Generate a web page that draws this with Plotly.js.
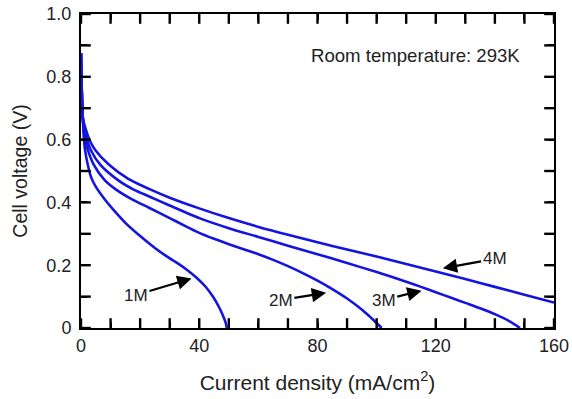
<!DOCTYPE html>
<html>
<head>
<meta charset="utf-8">
<script src="https://cdn.plot.ly/plotly-3.0.1.min.js"></script>
<style>html,body{margin:0;padding:0;background:#fff;}#chart{width:572px;height:399px;}</style>
</head>
<body>
<div id="chart"></div>
<script>
// Series labels
const seriesNames = ["1M", "2M", "3M", "4M"];

// 1M methanol
const x1M = [0, 0.1, 0.25, 0.45, 0.7, 1.0, 1.4, 2.3, 3.5, 5, 8, 11, 15, 20, 25, 29, 33, 36, 39, 42, 44.5, 46.5, 48, 49, 49.3];
const y1M = [0.875, 0.82, 0.76, 0.70, 0.65, 0.60, 0.565, 0.52, 0.478, 0.45, 0.41, 0.376, 0.335, 0.293, 0.255, 0.228, 0.204, 0.184, 0.161, 0.133, 0.102, 0.07, 0.04, 0.015, 0];

// 2M methanol
const x2M = [0, 0.1, 0.25, 0.45, 0.7, 1.4, 2.3, 4.3, 8, 12, 17.6, 23, 30, 35, 40, 45, 50, 55, 60, 65, 70, 75, 80, 85, 90, 94, 97, 99.5, 101.7];
const y2M = [0.875, 0.82, 0.76, 0.70, 0.655, 0.60, 0.567, 0.52, 0.471, 0.44, 0.408, 0.383, 0.35, 0.326, 0.303, 0.284, 0.267, 0.251, 0.235, 0.217, 0.197, 0.175, 0.151, 0.124, 0.094, 0.066, 0.042, 0.02, 0];

// 3M methanol
const x3M = [0, 0.1, 0.25, 0.45, 0.7, 2.0, 3.3, 6.5, 12.5, 18, 23.3, 30, 40, 50, 60, 70, 80, 90, 100, 105, 110, 115, 120, 125, 130, 135, 140, 145, 148.5];
const y3M = [0.875, 0.82, 0.76, 0.70, 0.66, 0.60, 0.567, 0.52, 0.471, 0.44, 0.418, 0.39, 0.35, 0.318, 0.29, 0.262, 0.235, 0.207, 0.178, 0.163, 0.147, 0.131, 0.114, 0.097, 0.08, 0.063, 0.044, 0.021, 0];

// 4M methanol
const x4M = [0, 0.1, 0.25, 0.45, 0.7, 2.8, 4.8, 9.5, 16, 23, 30, 40, 50, 60, 70, 80, 90, 100, 110, 120, 130, 140, 150, 160];
const y4M = [0.875, 0.82, 0.76, 0.70, 0.665, 0.60, 0.567, 0.52, 0.475, 0.443, 0.415, 0.381, 0.35, 0.322, 0.297, 0.273, 0.25, 0.228, 0.204, 0.18, 0.156, 0.131, 0.106, 0.081];

// Tick positions and labels (blank label = minor tick)
const xTickVals = [0, 10, 20, 30, 40, 50, 60, 70, 80, 90, 100, 110, 120, 130, 140, 150, 160];
const xTickText = ["0", "", "", "", "40", "", "", "", "80", "", "", "", "120", "", "", "", "160"];
const yTickVals = [0, 0.1, 0.2, 0.3, 0.4, 0.5, 0.6, 0.7, 0.8, 0.9, 1.0];
const yTickText = ["0", "", "0.2", "", "0.4", "", "0.6", "", "0.8", "", "1.0"];

const lineColor = "rgb(20,20,225)";
const xs = [x1M, x2M, x3M, x4M];
const ys = [y1M, y2M, y3M, y4M];
const traces = xs.map((x, i) => ({
  x: x, y: ys[i], name: seriesNames[i], type: "scatter", mode: "lines",
  line: {color: lineColor, width: 2.6, shape: "spline", smoothing: 0.7},
  hoverinfo: "skip", showlegend: false
}));

// Tick marks on all four sides as clipped line markers, placed through the axes' own scales
const tickMarker = (sym) => ({symbol: sym, size: 14, color: "#000", line: {color: "#000", width: 2.4}});
const xMin = 0, xMax = 160, yMin = 0, yMax = 1.0;
traces.push(
  {x: xTickVals, y: xTickVals.map(() => yMin), type: "scatter", mode: "markers", marker: tickMarker("line-ns-open"), cliponaxis: true, hoverinfo: "skip", showlegend: false},
  {x: xTickVals, y: xTickVals.map(() => yMax), type: "scatter", mode: "markers", marker: tickMarker("line-ns-open"), cliponaxis: true, hoverinfo: "skip", showlegend: false},
  {x: yTickVals.map(() => xMin), y: yTickVals, type: "scatter", mode: "markers", marker: tickMarker("line-ew-open"), cliponaxis: true, hoverinfo: "skip", showlegend: false},
  {x: yTickVals.map(() => xMax), y: yTickVals, type: "scatter", mode: "markers", marker: tickMarker("line-ew-open"), cliponaxis: true, hoverinfo: "skip", showlegend: false}
);

const font = "Liberation Sans, Arial, Helvetica, sans-serif";
const axisCommon = {
  showline: true, linecolor: "#000", linewidth: 2, mirror: "allticks",
  ticks: "inside", ticklen: 6, tickwidth: 2, tickcolor: "#000",
  showgrid: false, zeroline: false, fixedrange: true,
  tickfont: {family: font, size: 18, color: "#222"}
};

const arrowStyle = {showarrow: true, arrowhead: 2, arrowsize: 1.3, arrowwidth: 2.2, arrowcolor: "#000",
  axref: "x", ayref: "y", standoff: 0, startstandoff: 0, font: {family: font, size: 17, color: "#222"}};

const layout = {
  width: 572, height: 399,
  margin: {l: 81, r: 18, t: 14, b: 71},
  paper_bgcolor: "#fff", plot_bgcolor: "#fff",
  xaxis: Object.assign({}, axisCommon, {
    range: [xMin, xMax], tickmode: "array", tickvals: xTickVals, ticktext: xTickText,
    title: {text: "Current density (mA/cm<sup>2</sup>)", font: {family: font, size: 21, color: "#222"}, standoff: 21}
  }),
  yaxis: Object.assign({}, axisCommon, {
    range: [yMin, yMax], tickmode: "array", tickvals: yTickVals, ticktext: yTickText,
    ticklabelstandoff: 4,
    title: {text: "Cell voltage (V)", font: {family: font, size: 19.5, color: "#222"}, standoff: 14}
  }),
  annotations: [
    {x: 37.4, y: 0.158, ax: 18.6, ay: 0.105, text: seriesNames[0]},
    {x: 82.9, y: 0.112, ax: 67.6, ay: 0.089, text: seriesNames[1]},
    {x: 115.2, y: 0.119, ax: 102.4, ay: 0.089, text: seriesNames[2]},
    {x: 122.4, y: 0.19, ax: 139.9, ay: 0.22, text: seriesNames[3]}
  ].map(a => Object.assign({xref: "x", yref: "y"}, arrowStyle, a)).concat([
    {xref: "x", yref: "y", x: 113.3, y: 0.869, text: "Room temperature: 293K", showarrow: false,
     xanchor: "center", yanchor: "middle", font: {family: font, size: 18.6, color: "#222"}}
  ])
};

Plotly.newPlot("chart", traces, layout, {staticPlot: true, displayModeBar: false});
</script>
</body>
</html>
